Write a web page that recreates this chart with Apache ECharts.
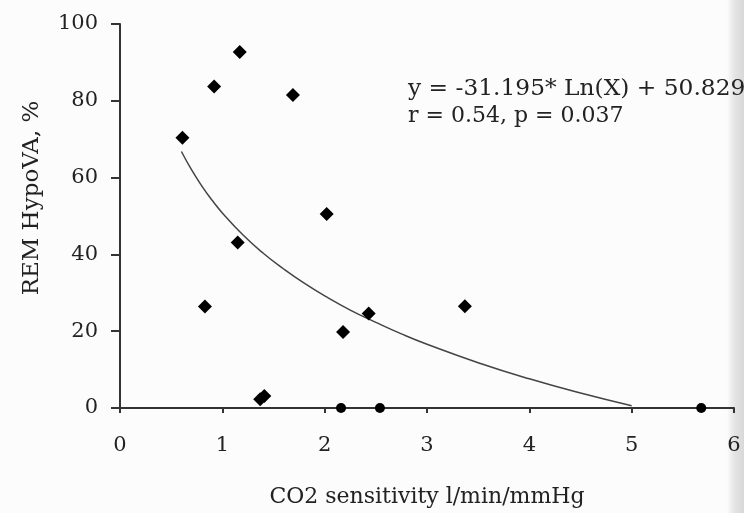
<!DOCTYPE html>
<html>
<head>
<meta charset="utf-8">
<script src="https://cdn.jsdelivr.net/npm/echarts@6/dist/echarts.min.js"></script>
<style>
html,body{margin:0;padding:0;background:#fcfcfc;}
#chart{width:744px;height:513px;}
</style>
</head>
<body>
<div id="chart"></div>
<script>
// Scatter points: CO2 sensitivity (x) vs REM HypoVA % (y)
const co2Sensitivity = [0.61, 0.92, 1.17, 1.69, 0.83, 1.15, 2.02, 2.18, 2.43, 3.37, 1.37, 1.41, 2.16, 2.54, 5.68];
const remHypoVA      = [70.4, 83.7, 92.7, 81.5, 26.4, 43.1, 50.5, 19.8, 24.6, 26.5, 2.3, 3.1, 0, 0, 0];
// Fitted logarithmic trend line
const trendX = [0.6, 0.7, 0.8, 0.9, 1.0, 1.2, 1.4, 1.6, 1.8, 2.0, 2.25, 2.5, 2.75, 3.0, 3.5, 4.0, 4.5, 5.0];
const trendY = [66.8, 62.0, 57.8, 54.1, 50.8, 45.1, 40.3, 36.2, 32.5, 29.2, 25.5, 22.3, 19.3, 16.6, 11.8, 7.6, 3.9, 0.6];
const xTicks = [0, 1, 2, 3, 4, 5, 6];
const yTicks = [0, 20, 40, 60, 80, 100];
const equationText = 'y = -31.195* Ln(X) + 50.829';
const statsText = 'r = 0.54, p = 0.037';
const xTitle = 'CO2 sensitivity l/min/mmHg';
const yTitle = 'REM HypoVA, %';

const font = '"DejaVu Serif", serif';
const ink = '#222';
const axisInk = '#333';

const chart = echarts.init(document.getElementById('chart'), null, {renderer: 'canvas'});
chart.setOption({
  animation: false,
  backgroundColor: '#fcfcfc',
  grid: {left: 120, right: 10, top: 24, bottom: 105, containLabel: false},
  xAxis: {
    type: 'value', min: xTicks[0], max: xTicks[xTicks.length - 1], interval: 1,
    axisLine: {show: true, onZero: false, lineStyle: {color: axisInk, width: 2}},
    axisTick: {show: true, inside: false, length: 5, lineStyle: {color: axisInk, width: 2}},
    axisLabel: {color: ink, fontFamily: font, fontSize: 21, margin: 27},
    splitLine: {show: false},
    name: xTitle, nameLocation: 'middle', nameGap: 78,
    nameTextStyle: {color: ink, fontFamily: font, fontSize: 22}
  },
  yAxis: {
    type: 'value', min: yTicks[0], max: yTicks[yTicks.length - 1], interval: 20,
    axisLine: {show: true, onZero: false, lineStyle: {color: axisInk, width: 2}},
    axisTick: {show: true, inside: false, length: 9, lineStyle: {color: axisInk, width: 2}},
    axisLabel: {color: ink, fontFamily: font, fontSize: 21, margin: 22},
    splitLine: {show: false}
  },
  graphic: [
    {type: 'rect', z: -10, silent: true, shape: {x: 727, y: 0, width: 17, height: 513},
     style: {fill: new echarts.graphic.LinearGradient(0, 0, 1, 0, [
       {offset: 0, color: 'rgba(225,225,225,0)'}, {offset: 0.45, color: '#e4e4e4'}, {offset: 1, color: '#d8d8d8'}])}},
    {type: 'text', x: 408, y: 78, z: 100, scaleX: 1.06,
     style: {text: equationText, fill: ink, font: '22px ' + font}},
    {type: 'text', x: 408, y: 105, z: 100,
     style: {text: statsText, fill: ink, font: '22px ' + font}},
    {type: 'text', x: 32, y: 198, rotation: Math.PI / 2, z: 100,
     style: {text: yTitle, fill: ink, font: '23px ' + font, textAlign: 'center', textVerticalAlign: 'middle'}}
  ],
  series: [
    {
      type: 'line', data: trendX.map((x, i) => [x, trendY[i]]),
      smooth: true, showSymbol: false, symbol: 'none',
      lineStyle: {color: '#444', width: 1.5}, z: 2
    },
    {
      type: 'scatter', data: co2Sensitivity.map((x, i) => [x, remHypoVA[i]]),
      symbol: v => v[1] === 0 ? 'circle' : 'diamond',
      symbolSize: v => v[1] === 0 ? 10 : 14,
      itemStyle: {color: '#000', opacity: 1}, z: 3
    }
  ]
});
</script>
</body>
</html>
